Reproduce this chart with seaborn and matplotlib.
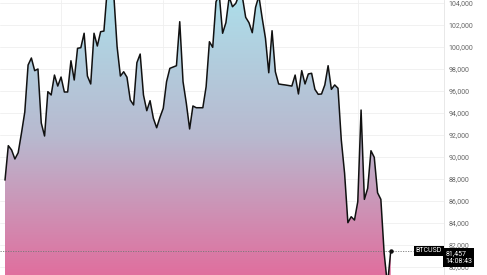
import numpy as np
import pandas as pd
import matplotlib
matplotlib.use("Agg")
import matplotlib.pyplot as plt
import matplotlib.dates as mdates
import matplotlib.transforms as mtransforms
from matplotlib.colors import LinearSegmentedColormap
import seaborn as sns

# ---- data ----
start_date = "2024-11-14"
prices = [
    87900, 91030, 90640, 89820, 90390, 92180, 94090, 98360, 99000, 97850,
    98000, 93090, 91910, 95940, 95640, 97450, 96450, 97270, 95910, 95910,
    98750, 97000, 99880, 99940, 101250, 97360, 96640, 101250, 100090, 101390,
    101450, 105180, 106730, 104730, 100030, 97360, 97750, 97250, 95180, 94730,
    98570, 99360, 95640, 94210, 95120, 93520, 92660, 93610, 94430, 96850,
    98060, 98180, 98300, 102300, 96850, 94880, 92550, 94640, 94480, 94480,
    94480, 96390, 100480, 99970, 104120, 104730, 101250, 102210, 104550, 103660,
    103970, 104730, 104550, 102700, 102210, 101300, 103610, 104640, 102640, 100790,
    97660, 101480, 97750, 96640, 96590, 96550, 96500, 96450, 97450, 95730,
    97850, 96640, 97550, 97610, 96150, 95700, 95730, 96550, 98300, 96150,
    96550, 96250, 91550, 88520, 84030, 84570, 84270, 85940, 94270, 86150,
    87150, 90570, 89970, 86750, 86150, 81250, 78360, 81457,
]
y_ticks = list(range(80000, 104001, 2000))
symbol = "BTCUSD"
last_price_label = "81,457"
last_time_label = "14:08:43"

dates = pd.date_range(start_date, periods=len(prices), freq="D")
df = pd.DataFrame({"date": dates, "price": prices})

# ---- figure ----
sns.set_style("white")
plt.rcParams["font.family"] = ["Roboto", "DejaVu Sans"]

W, H = 487, 275
fig = plt.figure(figsize=(W / 100, H / 100), dpi=100)
ax = fig.add_axes([0, 0, 444 / W, 1])

x_num = mdates.date2num(df["date"])
step = x_num[1] - x_num[0]
x0 = x_num[0] - 5 / 3.297 * step
x1 = x_num[0] + 439 / 3.297 * step
ymin, ymax = 79273, 104273
ax.set_xlim(x0, x1)
ax.set_ylim(ymin, ymax)

# gradient fill under the line
poly = ax.fill_between(df["date"], df["price"], ymin - 5000, color="none", lw=0)
cmap = LinearSegmentedColormap.from_list("grad", ["#ADDDE9", "#B8B9CF", "#E06F9E"])
grad = np.linspace(0, 1, 256).reshape(-1, 1)
im = ax.imshow(grad, cmap=cmap, aspect="auto", extent=[x0, x1, ymin, ymax],
               origin="upper", zorder=1)
path = poly.get_paths()[0]
im.set_clip_path(path, transform=ax.transData)

sns.lineplot(data=df, x="date", y="price", ax=ax, color="#111111", lw=1.1, zorder=3)

# grid
ax.set_yticks(y_ticks)
ax.xaxis.set_major_locator(mdates.MonthLocator())
ax.grid(True, color="#efefef", lw=0.6, zorder=0)
ax.set_axisbelow(True)
ax.set_xlabel("")
ax.set_ylabel("")
ax.tick_params(axis="x", length=0, labelbottom=False)
ax.yaxis.tick_right()
ax.tick_params(axis="y", length=0, labelsize=5, labelcolor="#666666", pad=3.5)
ax.yaxis.set_major_formatter(matplotlib.ticker.FuncFormatter(lambda v, p: f"{int(v):,}"))
for s in ["top", "left", "bottom"]:
    ax.spines[s].set_visible(False)
ax.spines["right"].set_color("#e4e4e4")
ax.spines["right"].set_linewidth(0.6)

# last price line and marker
last = prices[-1]
trans = mtransforms.blended_transform_factory(ax.transAxes, ax.transData)
ax.plot([0, 0.93], [last, last], transform=trans, color="#777777", lw=0.6,
        ls=(0, (1.5, 1.5)), zorder=2)
ax.plot([df["date"].iloc[-1]], [last], "o", color="#111111", ms=2.2, zorder=4)

ax.text(0.995, last, symbol, transform=trans, ha="right", va="center",
        fontsize=5, color="white", zorder=6, clip_on=False,
        bbox=dict(boxstyle="square,pad=0.25", fc="black", ec="none"))
ax.text(1.003, last + 1.0 / 0.011 * 0.45, f"{last_price_label}\n{last_time_label}",
        transform=trans, ha="left", va="top", fontsize=5, color="white",
        linespacing=1.15, zorder=6, clip_on=False,
        bbox=dict(boxstyle="square,pad=0.3", fc="black", ec="none"))

fig.savefig("out.png", dpi=100)
